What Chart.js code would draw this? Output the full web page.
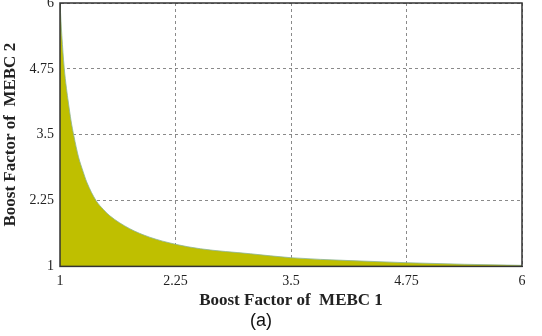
<!DOCTYPE html>
<html>
<head>
<meta charset="utf-8">
<script src="https://cdn.jsdelivr.net/npm/chart.js@4"></script>
<style>
  html, body { margin: 0; padding: 0; background: #fff; }
  #wrap { width: 542px; height: 336px; position: relative; }
</style>
</head>
<body>
<div id="wrap"><canvas id="c"></canvas></div>
<script>
// 讀圖估計的邊界曲線 (MEBC 1 vs MEBC 2)
const boost1 = [1, 1.02, 1.045, 1.07, 1.09, 1.12, 1.15, 1.2, 1.25, 1.29, 1.39, 1.47, 1.54, 1.75, 1.97, 2.25, 2.52, 3.06, 3.5, 4.14, 4.75, 5.38, 6];
const boost2 = [6, 5.38, 4.78, 4.38, 4.12, 3.76, 3.48, 3.08, 2.8, 2.6, 2.25, 2.08, 1.96, 1.72, 1.555, 1.42, 1.335, 1.24, 1.165, 1.11, 1.07, 1.04, 1.02];
const xTicks = [1, 2.25, 3.5, 4.75, 6];
const yTicks = [1, 2.25, 3.5, 4.75, 6];

const FILL = '#bfbf00';

// 外框 (上、右也要畫)
const framePlugin = {
  id: 'frame',
  afterDraw(chart) {
    const { ctx, chartArea: a } = chart;
    ctx.save();
    ctx.strokeStyle = '#333';
    ctx.lineWidth = 1.5;
    ctx.strokeRect(a.left, a.top, a.right - a.left, a.bottom - a.top);
    ctx.restore();
  }
};

const gridStyle = {
  color: '#8a8a8a',
  lineWidth: 1,
  drawTicks: false
};

new Chart(document.getElementById('c'), {
  type: 'line',
  data: {
    datasets: [{
      data: boost1.map((x, i) => ({ x, y: boost2[i] })),
      borderColor: 'rgba(140,180,150,0.8)',
      borderWidth: 1,
      backgroundColor: FILL,
      fill: 'start',
      pointRadius: 0,
      cubicInterpolationMode: 'monotone'
    }]
  },
  options: {
    responsive: true,
    maintainAspectRatio: false,
    animation: false,
    layout: { padding: { left: 0, right: 20, top: 3, bottom: 0 } },
    plugins: {
      legend: { display: false },
      tooltip: { enabled: false },
      title: {
        display: true,
        position: 'bottom',
        text: '(a)',
        color: '#111',
        font: { family: 'Liberation Sans', size: 18, weight: 'normal' },
        padding: { top: 0, bottom: 4 }
      }
    },
    scales: {
      x: {
        type: 'linear',
        min: 1,
        max: 6,
        afterBuildTicks: s => { s.ticks = xTicks.map(v => ({ value: v })); },
        afterFit: s => { s.height = 44; },
        ticks: {
          color: '#222',
          padding: 7,
          font: { family: 'Liberation Serif', size: 14 },
          callback: v => String(v)
        },
        grid: { ...gridStyle },
        border: { display: true, color: '#333', dash: [3, 3] },
        title: {
          display: true,
          text: 'Boost Factor of  MEBC 1',
          color: '#222',
          font: { family: 'Liberation Serif', size: 17, weight: 'bold' },
          padding: { top: -8, bottom: 0 }
        }
      },
      y: {
        type: 'linear',
        min: 1,
        max: 6,
        afterBuildTicks: s => { s.ticks = yTicks.map(v => ({ value: v })); },
        afterFit: s => { s.width = 60; s.paddingTop = 0; },
        ticks: {
          color: '#222',
          padding: 6,
          font: { family: 'Liberation Serif', size: 14 },
          callback: v => String(v)
        },
        grid: { ...gridStyle },
        border: { display: true, color: '#333', dash: [3, 3] },
        title: {
          display: true,
          text: 'Boost Factor of  MEBC 2',
          color: '#222',
          font: { family: 'Liberation Serif', size: 17, weight: 'bold' },
          padding: { top: 0, bottom: 1 }
        }
      }
    }
  },
  plugins: [framePlugin]
});
</script>
</body>
</html>
